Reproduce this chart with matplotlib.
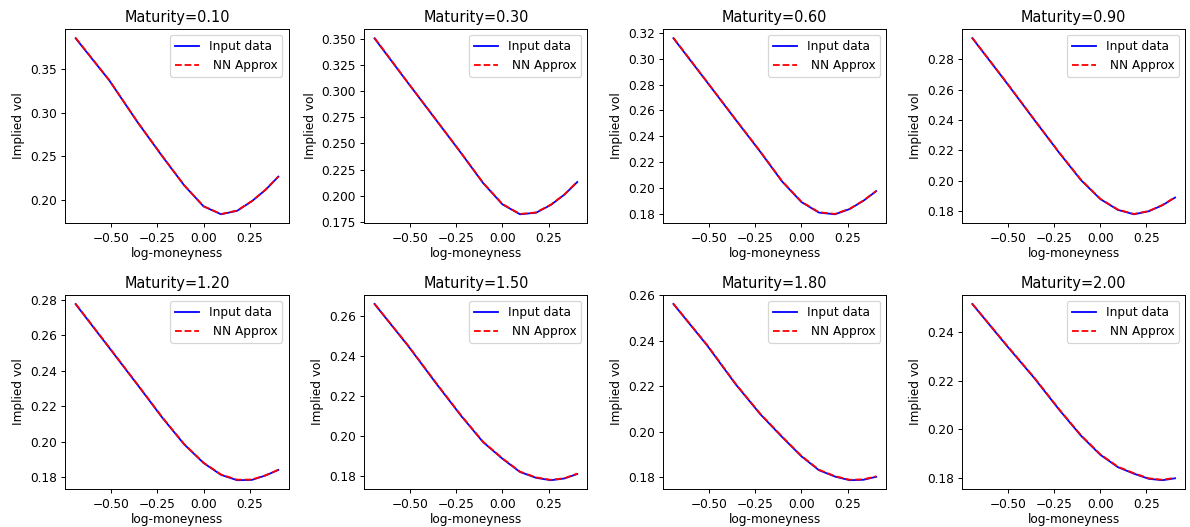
import numpy as np
import matplotlib
matplotlib.use("Agg")
import matplotlib.pyplot as plt

# ── Data ──────────────────────────────────────────────────────────────────────

maturities = [0.10, 0.30, 0.60, 0.90, 1.20, 1.50, 1.80, 2.00]

# log(K/S) for strikes 0.5 .. 1.5
log_moneyness = [-0.693, -0.511, -0.357, -0.223, -0.105, 0.0,
                 0.095, 0.182, 0.262, 0.336, 0.405]

vol_t010 = [0.385, 0.337, 0.289, 0.250, 0.217, 0.193, 0.184, 0.188, 0.199, 0.212, 0.227]
vol_t030 = [0.351, 0.308, 0.272, 0.2405, 0.212, 0.1915, 0.182, 0.1835, 0.191, 0.201, 0.213]
vol_t060 = [0.316, 0.282, 0.253, 0.228, 0.205, 0.189, 0.1808, 0.1795, 0.1836, 0.190, 0.1974]
vol_t090 = [0.2938, 0.265, 0.240, 0.2185, 0.2005, 0.188, 0.1809, 0.178, 0.180, 0.1839, 0.189]
vol_t120 = [0.2776, 0.253, 0.232, 0.2135, 0.1985, 0.188, 0.1813, 0.1783, 0.1785, 0.181, 0.1841]
vol_t150 = [0.2659, 0.245, 0.226, 0.2100, 0.197, 0.1887, 0.1821, 0.1792, 0.178, 0.1789, 0.1811]
vol_t180 = [0.2561, 0.238, 0.221, 0.2078, 0.1978, 0.1893, 0.1832, 0.1804, 0.1788, 0.179, 0.1803]
vol_t200 = [0.2516, 0.2348, 0.221, 0.208, 0.1973, 0.1894, 0.1843, 0.1816, 0.1795, 0.1789, 0.1797]

# NN approximation sits on top of the input data
nn_t010 = [0.3855, 0.3372, 0.2892, 0.2503, 0.2172, 0.1932, 0.1843, 0.1883, 0.1992, 0.2122, 0.2272]
nn_t030 = [0.3515, 0.3082, 0.2722, 0.2407, 0.2123, 0.1918, 0.1823, 0.1838, 0.1913, 0.2012, 0.2133]
nn_t060 = [0.3163, 0.2822, 0.2532, 0.2283, 0.2053, 0.1893, 0.1811, 0.1798, 0.1838, 0.1902, 0.1976]
nn_t090 = [0.2940, 0.2652, 0.2402, 0.2187, 0.2008, 0.1882, 0.1811, 0.1782, 0.1801, 0.1841, 0.1892]
nn_t120 = [0.2778, 0.2532, 0.2322, 0.2137, 0.1987, 0.1882, 0.1815, 0.1786, 0.1787, 0.1811, 0.1842]
nn_t150 = [0.2660, 0.2452, 0.2262, 0.2102, 0.1972, 0.1889, 0.1823, 0.1794, 0.1782, 0.1790, 0.1813]
nn_t180 = [0.2562, 0.2382, 0.2212, 0.2080, 0.1980, 0.1895, 0.1834, 0.1806, 0.1790, 0.1792, 0.1805]
nn_t200 = [0.2517, 0.2350, 0.2212, 0.2082, 0.1975, 0.1896, 0.1845, 0.1818, 0.1797, 0.1791, 0.1799]

input_vols = [vol_t010, vol_t030, vol_t060, vol_t090,
              vol_t120, vol_t150, vol_t180, vol_t200]
nn_vols = [nn_t010, nn_t030, nn_t060, nn_t090,
           nn_t120, nn_t150, nn_t180, nn_t200]

# ── Plot ──────────────────────────────────────────────────────────────────────

DPI = 87  # reference is a scaled-down render, so use a smaller dpi
fig, axes = plt.subplots(2, 4, figsize=(1190 / DPI, 527 / DPI), dpi=DPI)
fig.subplots_adjust(left=0.055, right=0.996, top=0.945, bottom=0.072,
                    wspace=0.34, hspace=0.37)

for ax, T, vols, nn in zip(axes.flat, maturities, input_vols, nn_vols):
    ax.plot(log_moneyness, vols, 'b-', label="Input data")
    ax.plot(log_moneyness, nn, 'r--', label=" NN Approx")
    ax.set_title(f"Maturity={T:.2f}")
    ax.set_xlabel("log-moneyness", labelpad=2)
    ax.set_ylabel("Implied vol")
    ax.set_xticks([-0.5, -0.25, 0.0, 0.25])
    ax.legend(loc="upper right")

plt.savefig("out.png", dpi=DPI)
